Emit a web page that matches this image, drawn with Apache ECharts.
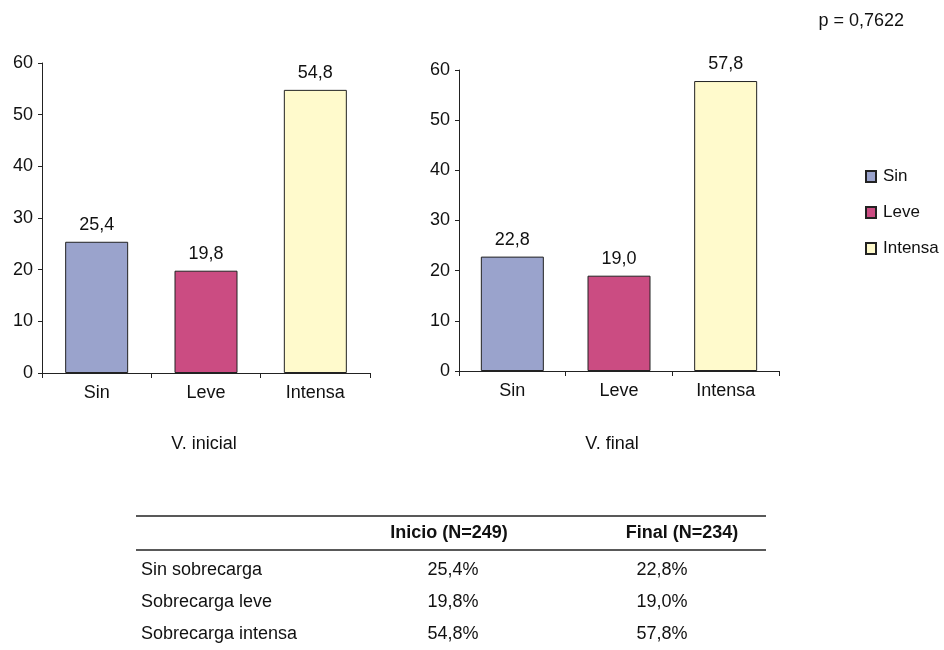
<!DOCTYPE html>
<html>
<head>
<meta charset="utf-8">
<script src="https://cdn.jsdelivr.net/npm/echarts@6/dist/echarts.min.js"></script>
<style>
  html, body { margin: 0; padding: 0; background: #fff; }
  #chart { width: 944px; height: 650px; }
</style>
</head>
<body>
<div id="chart"></div>
<script>
// Categories of caregiver burden
const categories = ['Sin', 'Leve', 'Intensa'];
// Percentages at the initial and final visit
const inicial = [25.4, 19.8, 54.8];
const final = [22.8, 19.0, 57.8];
// Panel captions
const panelTitles = ['V. inicial', 'V. final'];
// Y axis ticks
const yMin = 0, yMax = 60, yStep = 10;
// Table text
const tableHeaders = ['Inicio (N=249)', 'Final (N=234)'];
const tableRows = ['Sin sobrecarga', 'Sobrecarga leve', 'Sobrecarga intensa'];
const pValue = 'p = 0,7622';

const colors = ['#9aa3cc', '#cb4c82', '#fffacc'];
const FONT = '"Liberation Sans", Arial, sans-serif';
const fmt = v => v.toFixed(1).replace('.', ',');

const grids = [
  { left: 42, top: 63, width: 328, height: 310 },
  { left: 459, top: 70, width: 320, height: 301 }
];

const xAxes = grids.map((g, i) => ({
  type: 'category', gridIndex: i, data: categories,
  axisLine: { lineStyle: { color: '#222', width: 1 } },
  axisTick: { show: true, alignWithLabel: false, length: 5, lineStyle: { color: '#222' } },
  axisLabel: { color: '#111', fontSize: 18, fontFamily: FONT, margin: 11 }
}));
const yAxes = grids.map((g, i) => ({
  type: 'value', gridIndex: i, min: yMin, max: yMax, interval: yStep,
  axisLine: { show: true, lineStyle: { color: '#222', width: 1 } },
  axisTick: { show: true, length: 4, lineStyle: { color: '#222' } },
  splitLine: { show: false },
  axisLabel: { color: '#111', fontSize: 18, fontFamily: FONT, margin: 9 }
}));

const series = [];
[inicial, final].forEach((vals, g) => {
  categories.forEach((c, k) => {
    series.push({
      type: 'bar', name: c, xAxisIndex: g, yAxisIndex: g, stack: 'panel' + g,
      barWidth: 63,
      data: vals.map((v, j) => (j === k ? v : '-')),
      itemStyle: { color: colors[k], borderColor: '#222', borderWidth: 1 },
      label: {
        show: true, position: 'top', distance: 8, color: '#111',
        fontSize: 18, fontFamily: FONT, formatter: p => fmt(p.value)
      },
      emphasis: { disabled: true }
    });
  });
});

// Table under the panels
const tblLeft = 136, tblRight = 766;
const headerCenters = [449, 682];
const colCenters = [453, 662];
const rowYs = [570, 602, 634];
const txt = (x, y, text, align, bold) => ({
  type: 'text', x: x, y: y,
  style: { text: text, font: (bold ? 'bold ' : '') + '18px ' + FONT, fill: '#111', textAlign: align, textVerticalAlign: 'middle' }
});
const graphics = [
  { type: 'line', shape: { x1: tblLeft, y1: 516, x2: tblRight, y2: 516 }, style: { stroke: '#222', lineWidth: 1.5 } },
  { type: 'line', shape: { x1: tblLeft, y1: 550, x2: tblRight, y2: 550 }, style: { stroke: '#222', lineWidth: 1.5 } },
  txt(904, 21, pValue, 'right', false)
];
tableHeaders.forEach((h, i) => graphics.push(txt(headerCenters[i], 533, h, 'center', true)));
panelTitles.forEach((t, i) => graphics.push(txt([204, 612][i], 444, t, 'center', false)));
tableRows.forEach((r, i) => {
  graphics.push(txt(141, rowYs[i], r, 'left', false));
  [inicial, final].forEach((vals, c) => {
    graphics.push(txt(colCenters[c], rowYs[i], fmt(vals[i]) + '%', 'center', false));
  });
});

const chart = echarts.init(document.getElementById('chart'), null, { renderer: 'canvas' });
chart.setOption({
  backgroundColor: '#fff',
  animation: false,
  grid: grids,
  xAxis: xAxes,
  yAxis: yAxes,
  legend: {
    data: categories, orient: 'vertical', left: 865, top: 168, padding: 0,
    itemWidth: 10, itemHeight: 11, itemGap: 19, icon: 'rect',
    textStyle: { fontSize: 17, fontFamily: FONT, color: '#111', padding: [0, 0, 0, 2] }
  },
  series: series,
  graphic: graphics
});
</script>
</body>
</html>
